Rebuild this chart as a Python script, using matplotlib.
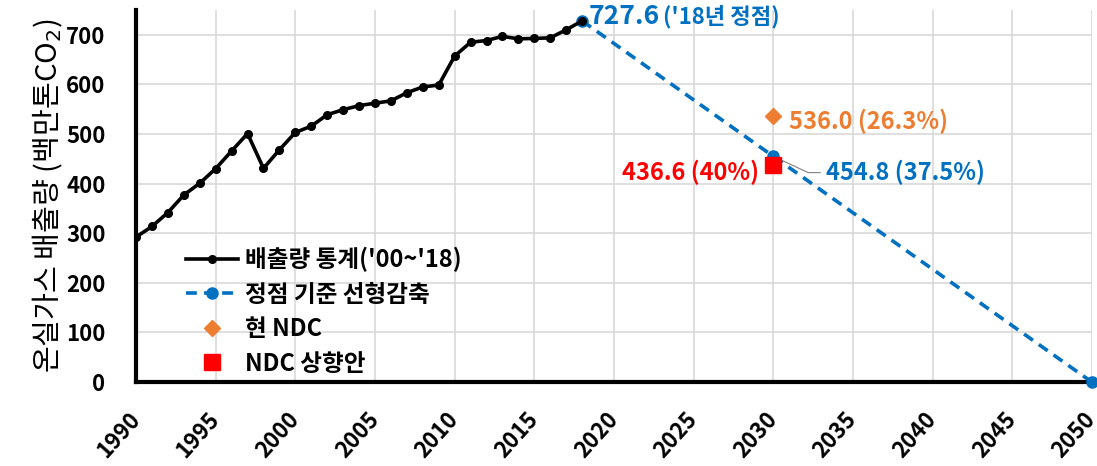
import matplotlib.pyplot as plt

plt.rcParams['font.family'] = ['Noto Sans CJK KR', 'DejaVu Sans']

# 배출량 통계 (1990~2018)
years = list(range(1990, 2019))
emissions = [292.2, 313.5, 341.6, 376.9, 400.6, 430.0, 465.6, 500.6, 430.6, 468.0,
             502.9, 515.6, 538.7, 548.7, 557.0, 561.8, 566.6, 582.9, 594.6, 598.4,
             656.8, 684.6, 688.1, 696.5, 691.5, 692.3, 693.5, 709.7, 727.6]

# 정점 기준 선형감축
linear_years = [2018, 2030, 2050]
linear_vals = [727.6, 454.8, 0]

ndc_year = [2030]
ndc_current = [536.0]
ndc_raised = [436.6]

xticks = list(range(1990, 2051, 5))
yticks = list(range(0, 701, 100))

blue = '#0070C0'
orange = '#ED7D31'
red = '#FF0000'

fig = plt.figure(figsize=(10.97, 4.66), dpi=100)
ax = fig.add_axes([0.124, 0.18, 0.8714, 0.799])

ax.plot(years, emissions, color='black', lw=2.6, marker='o', ms=5.5,
        label="배출량 통계('00~'18)", zorder=4)
ax.plot(linear_years, linear_vals, color=blue, lw=2.6, ls=(0, (3, 2)), marker='o', ms=8,
        label='정점 기준 선형감축', zorder=3, clip_on=False)
ax.plot(ndc_year, ndc_current, ls='none', marker='D', ms=8, color=orange,
        label='현 NDC', zorder=5)
ax.plot(ndc_year, ndc_raised, ls='none', marker='s', ms=11, color=red,
        label='NDC 상향안', zorder=5)

# labels
ax.text(2018.4, 737, '727.6', color=blue, fontsize=19, fontweight='bold', va='center')
ax.text(2023.1, 737, "('18년 정점)", color=blue, fontsize=16, fontweight='bold', va='center')
ax.text(2031.0, 526, '536.0 (26.3%)', color=orange, fontsize=17, fontweight='bold', va='center')
ax.text(2029.1, 422, '436.6 (40%)', color=red, fontsize=17, fontweight='bold', va='center', ha='right')
ax.annotate('454.8 (37.5%)', xy=(2030, 454.8), xytext=(2033.3, 422),
            color=blue, fontsize=17, fontweight='bold', va='center',
            arrowprops=dict(arrowstyle='-', color='gray', lw=0.8, relpos=(0, 0.5),
                            connectionstyle='angle,angleA=0,angleB=-25,rad=0'))

ax.set_xlim(1990, 2050)
ax.set_ylim(0, 750)
ax.set_xticks(xticks)
ax.set_yticks(yticks)
ax.set_xticklabels([str(x) for x in xticks], rotation=48, ha='right', va='center',
                   rotation_mode='anchor', fontsize=16, fontweight='bold')
ax.set_yticklabels([str(y) for y in yticks], fontsize=16, fontweight='bold')
ax.tick_params(axis='x', length=0, pad=24)
ax.tick_params(axis='y', length=0, pad=22)
ax.grid(True, color='#D9D9D9', lw=1.2)
ax.set_axisbelow(True)

for s in ['top', 'right']:
    ax.spines[s].set_visible(False)
for s in ['left', 'bottom']:
    ax.spines[s].set_linewidth(3)

ax.set_ylabel('온실가스 배출량 (백만톤CO$_2$)', fontsize=21, fontweight='medium', labelpad=1)

leg = ax.legend(loc='lower left', bbox_to_anchor=(0.03, -0.04), frameon=False,
                fontsize=17, handlelength=2.2, handletextpad=0.3, labelspacing=0.45)
for t in leg.get_texts():
    t.set_fontweight('bold')

fig.savefig('out.png', dpi=100)
